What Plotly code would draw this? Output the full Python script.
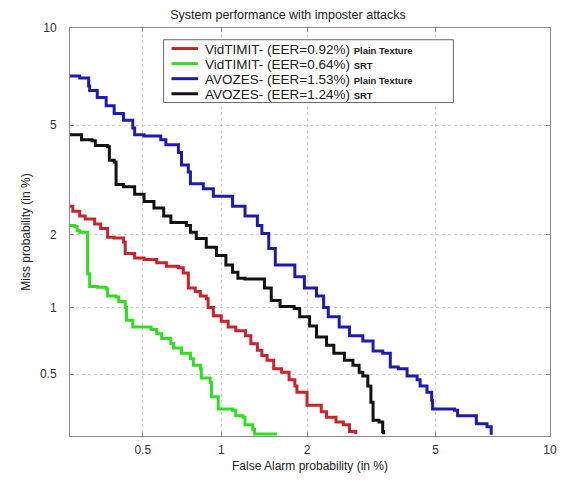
import plotly.graph_objects as go
from statistics import NormalDist

_nd = NormalDist()
def probit(p):
    return _nd.inv_cdf(p / 100.0)

# ---------------- data (percent) ----------------
tick_vals_pct = [0.5, 1, 2, 5, 10]
tick_labels = ["0.5", "1", "2", "5", "10"]
axis_min_pct = 0.25
axis_max_pct = 10

vid_plain_fa = [0.25, 0.257, 0.275, 0.29, 0.318, 0.337, 0.36, 0.383, 0.418, 0.425, 0.464, 0.506, 0.568,
                0.62, 0.69, 0.72, 0.753, 0.80, 0.836, 0.88, 0.894, 0.935, 1.0, 1.06, 1.13, 1.225, 1.28,
                1.35, 1.40, 1.46, 1.54, 1.64, 1.74, 1.82, 1.85, 2.0, 2.15, 2.23, 2.32, 2.49, 2.63, 2.75, 2.88]
vid_plain_miss = [2.57, 2.46, 2.36, 2.30, 2.20, 2.11, 1.95, 1.94, 1.87, 1.68, 1.61, 1.59, 1.54,
                  1.49, 1.47, 1.40, 1.21, 1.17, 1.12, 1.09, 1.0, 0.92, 0.87, 0.82, 0.79, 0.75, 0.69,
                  0.645, 0.61, 0.58, 0.53, 0.51, 0.47, 0.44, 0.41, 0.355, 0.355, 0.33, 0.31, 0.294, 0.285, 0.263, 0.255]

vid_srt_fa = [0.25, 0.262, 0.268, 0.275, 0.297, 0.303, 0.326, 0.355, 0.36, 0.39, 0.40, 0.425, 0.43, 0.456,
              0.54, 0.568, 0.594, 0.645, 0.66, 0.709, 0.767, 0.787, 0.836, 0.843, 0.91, 0.92, 0.975,
              1.10, 1.13, 1.20, 1.22, 1.30, 1.32, 1.58]
vid_srt_miss = [2.17, 2.15, 2.07, 2.04, 1.39, 1.23, 1.22, 1.20, 1.12, 1.11, 1.06, 1.0, 0.88, 0.82,
                0.80, 0.766, 0.73, 0.693, 0.66, 0.625, 0.59, 0.55, 0.53, 0.48, 0.457, 0.39, 0.34,
                0.336, 0.315, 0.31, 0.285, 0.27, 0.256, 0.256]

avo_plain_fa = [0.25, 0.275, 0.30, 0.303, 0.326, 0.355, 0.383, 0.418, 0.456, 0.464, 0.506, 0.589, 0.617,
                0.69, 0.709, 0.753, 0.767, 0.858, 0.935, 1.10, 1.22, 1.35, 1.40, 1.48, 1.56, 1.82, 1.96,
                2.15, 2.27, 2.35, 2.55, 2.75, 3.03, 3.26, 3.49, 3.68, 3.89, 4.13, 4.42, 4.51, 4.72, 4.87,
                4.90, 5.65, 5.76, 6.32, 6.48, 6.92, 7.10]
avo_plain_miss = [7.2, 7.1, 6.7, 6.48, 6.16, 5.8, 5.47, 5.19, 4.89, 4.64, 4.6, 4.46, 4.29,
                  4.03, 3.64, 3.44, 3.12, 2.99, 2.80, 2.57, 2.36, 2.17, 2.02, 1.76, 1.51, 1.35, 1.21,
                  1.12, 1.0, 0.91, 0.82, 0.75, 0.71, 0.64, 0.625, 0.54, 0.53, 0.49, 0.47, 0.44, 0.41, 0.375,
                  0.34, 0.336, 0.315, 0.315, 0.288, 0.278, 0.254]

avo_srt_fa = [0.25, 0.275, 0.28, 0.31, 0.32, 0.36, 0.366, 0.383, 0.39, 0.418, 0.464, 0.506, 0.554, 0.605,
              0.645, 0.74, 0.767, 0.807, 0.88, 0.96, 1.04, 1.10, 1.15, 1.22, 1.35, 1.43, 1.51, 1.62,
              1.81, 1.89, 2.04, 2.15, 2.32, 2.45, 2.65, 2.82, 2.95, 3.03, 3.14, 3.21, 3.26, 3.40, 3.49, 3.51]
avo_srt_miss = [4.64, 4.64, 4.46, 4.43, 4.26, 4.22, 3.79, 3.73, 3.1, 3.04, 2.85, 2.68, 2.53, 2.36,
                2.23, 2.17, 2.04, 1.93, 1.78, 1.65, 1.51, 1.41, 1.33, 1.32, 1.32, 1.21, 1.07, 1.01,
                0.99, 0.91, 0.83, 0.74, 0.68, 0.625, 0.58, 0.55, 0.51, 0.49, 0.44, 0.367, 0.30, 0.294, 0.263, 0.255]

series_main = ["VidTIMIT- (EER=0.92%)", "VidTIMIT- (EER=0.64%)", "AVOZES- (EER=1.53%)", "AVOZES- (EER=1.24%)"]
series_tag = ["Plain Texture", "SRT", "Plain Texture", "SRT"]
series_colors = ["#c8242c", "#33dd22", "#1c1cb4", "#111111"]
series_fa = [vid_plain_fa, vid_srt_fa, avo_plain_fa, avo_srt_fa]
series_miss = [vid_plain_miss, vid_srt_miss, avo_plain_miss, avo_srt_miss]

font_family = "Liberation Sans, Arial, sans-serif"

fig = go.Figure()
for main, tag, col, fa, miss in zip(series_main, series_tag, series_colors, series_fa, series_miss):
    fig.add_trace(go.Scatter(
        x=[probit(v) for v in fa], y=[probit(v) for v in miss],
        mode="lines", name=f"{main} {tag}", line=dict(color=col, width=3, shape="hv"),
        showlegend=False,
    ))

rng = [probit(axis_min_pct), probit(axis_max_pct)]
tickpos = [probit(v) for v in tick_vals_pct]

axis_common = dict(
    range=rng, tickmode="array", tickvals=tickpos, ticktext=tick_labels,
    showgrid=True, gridcolor="#cfcfcf", griddash="dot", gridwidth=1,
    showline=True, linecolor="#8a8a8a", linewidth=1, mirror="allticks",
    ticks="inside", ticklen=4, tickcolor="#8a8a8a",
    zeroline=False, tickfont=dict(family=font_family, size=12, color="#333333"),
)

# ---- layout geometry (pixels) ----
W, H = 567, 481
ML, MR, MT, MB = 70, 10, 28, 36
PW, PH = W - ML - MR, H - MT - MB
def px_x(px):
    return (px - ML) / PW
def px_y(py):
    return (H - MB - py) / PH

# manual legend: box, line samples, and one label per row
ROW_GAP = 15.4
ROW0 = 49
shapes = [dict(type="rect", xref="paper", yref="paper",
               x0=px_x(165), x1=px_x(459), y0=px_y(ROW0 + 3 * ROW_GAP + 9), y1=px_y(ROW0 - 9),
               line=dict(color="#666666", width=1), fillcolor="white", layer="above")]
annotations = []
for i, (main, tag, col) in enumerate(zip(series_main, series_tag, series_colors)):
    ry = ROW0 + i * ROW_GAP
    shapes.append(dict(type="line", xref="paper", yref="paper",
                       x0=px_x(173), x1=px_x(200), y0=px_y(ry), y1=px_y(ry),
                       line=dict(color=col, width=3), layer="above"))
    annotations.append(dict(
        xref="paper", yref="paper", x=px_x(205), y=px_y(ry + 0.5),
        xanchor="left", yanchor="middle", align="left", showarrow=False,
        text=f"{main} <b><span style='font-size:9.5px'>{tag}</span></b>",
        font=dict(family=font_family, size=13.5, color="#222222"),
    ))

fig.update_layout(
    width=W, height=H,
    margin=dict(l=ML, r=MR, t=MT, b=MB),
    paper_bgcolor="white", plot_bgcolor="white",
    font=dict(family=font_family, color="#222222"),
    title=dict(text="System performance with imposter attacks", x=0.508, xanchor="center",
               y=0.97, yanchor="middle", font=dict(size=12.5, color="#222222")),
    xaxis=dict(**axis_common, ticklabelstandoff=3,
               title=dict(text="False Alarm probability (in %)",
                          font=dict(size=12, color="#222222"), standoff=5)),
    yaxis=dict(**axis_common, ticklabelstandoff=10,
               title=dict(text="Miss probability (in %)",
                          font=dict(size=12, color="#222222"), standoff=6)),
    shapes=shapes,
    annotations=annotations,
    showlegend=False,
)

fig.write_html("out.html")
